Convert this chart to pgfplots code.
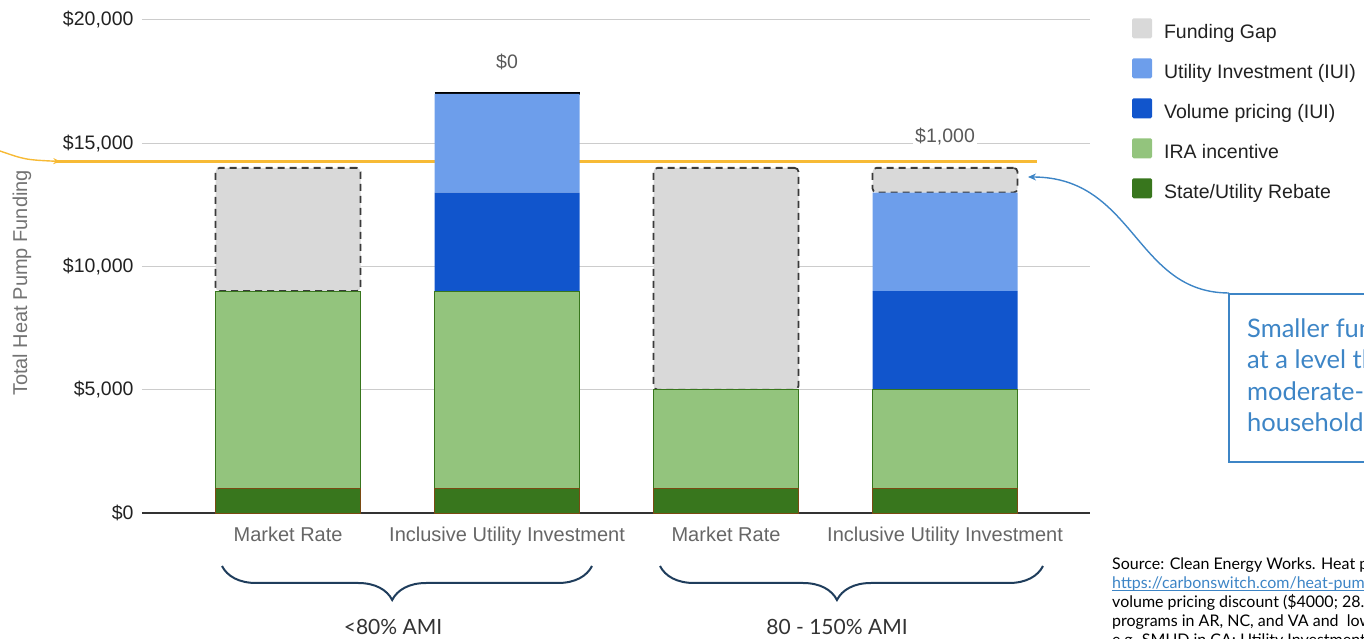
\documentclass[border=0pt]{standalone}
\usepackage{pgfplots}
\pgfplotsset{compat=1.18}
\usepackage{pgfplotstable}
\usepackage{fontspec}
\setmainfont{Liberation Sans}
\newfontfamily\lato{Lato}
\usetikzlibrary{arrows.meta,decorations.pathreplacing}
\definecolor{cGap}{HTML}{D9D9D9}
\definecolor{cUtil}{HTML}{6D9EEB}
\definecolor{cVol}{HTML}{1155CC}
\definecolor{cIRA}{HTML}{93C47D}
\definecolor{cReb}{HTML}{38761D}
\definecolor{cRebEdge}{HTML}{7A4A12}
\definecolor{cOrange}{HTML}{F7BA35}
\definecolor{cBlue}{HTML}{3D85C6}
\definecolor{cBrace}{HTML}{1F3D5C}
\definecolor{cDash}{HTML}{3A3A3A}

\pgfplotstableread{
x rebate ira volume utility gap
0 1000 8000 0 0 5000
1 1000 8000 4000 4000 0
2 1000 4000 0 0 9000
3 1000 4000 4000 4000 1000
}\datatable

\begin{document}
\begin{tikzpicture}[x=1pt,y=1pt]
\useasboundingbox (0,0) rectangle (1364,639);
\begin{axis}[
  at={(142pt,126pt)}, anchor=south west,
  scale only axis, width=948pt, height=493pt,
  xmin=-0.667, xmax=3.662, ymin=0, ymax=20000,
  ybar stacked, bar width=145pt,
  clip=false,
  scaled y ticks=false,
  axis lines=left, axis line style={draw=none},
  major tick length=0pt,
  ymajorgrids, grid style={draw=black!20, line width=1pt},
  extra y ticks={0}, extra y tick labels={},
  extra y tick style={grid style={draw=black!80, line width=1.3pt}},
  ytick={0,5000,10000,15000,20000},
  yticklabels={{\$0},{\$5,000},{\$10,000},{\$15,000},{\$20,000}},
  yticklabel style={font=\fontsize{19.5}{22}\selectfont, text=black!87, xshift=-5pt},
  xtick={0,1,2,3},
  xticklabels={Market Rate, Inclusive Utility Investment, Market Rate, Inclusive Utility Investment},
  xticklabel style={font=\fontsize{20}{23}\selectfont, text=black!60, yshift=-10pt},
  sq/.style={legend image code/.code={\fill[##1,draw=none,rounded corners=1.5pt] (0pt,-4pt) rectangle (20pt,16pt);}},
  reverse legend,
  legend cell align=left,
  legend style={at={(1.041,1.008)}, anchor=north west, draw=none, fill=none,
    font=\fontsize{19.5}{22}\selectfont, text=black!87, row sep=15.5pt,
    nodes={inner xsep=12pt, inner ysep=0pt, text height=13pt, text depth=4pt}},
]
\addplot[fill=cReb, draw=cRebEdge, line width=0.8pt, sq] table[x=x,y=rebate]{\datatable};
\addlegendentry{State/Utility Rebate}
\addplot[fill=cIRA, draw=cReb, line width=1pt, sq] table[x=x,y=ira]{\datatable};
\addlegendentry{IRA incentive}
\addplot[fill=cVol, draw=none, sq] table[x=x,y=volume]{\datatable};
\addlegendentry{Volume pricing (IUI)}
\addplot[fill=cUtil, draw=none, sq] table[x=x,y=utility]{\datatable};
\addlegendentry{Utility Investment (IUI)}
\addplot[fill=cGap, draw=cDash, line width=1.8pt, dash pattern=on 7pt off 5pt, rounded corners=4pt, sq] table[x=x,y=gap]{\datatable};
\addlegendentry{Funding Gap}

% zero funding gap on bar 2
\draw[black, line width=3pt] (axis cs:0.669,17000) -- (axis cs:1.331,17000);
% value labels
\node[font=\fontsize{19.5}{22}\selectfont, text=black!65] at (axis cs:0,13185) {\$5,000};
\node[font=\fontsize{19.5}{22}\selectfont, text=black!65] at (axis cs:2,13185) {\$9,000};
\node[font=\fontsize{19.5}{22}\selectfont, text=black!65] at (axis cs:1,18300) {\$0};
\node[font=\fontsize{19.5}{22}\selectfont, text=black!65, fill=white, inner sep=2pt] at (axis cs:3,15254) {\$1,000};
% target line
\draw[cOrange, line width=3.5pt] (axis cs:-1.06,14250) -- (axis cs:3.42,14250);
\draw[cOrange, line width=1.4pt, -{Stealth[length=7pt,width=6pt]}] (axis cs:-1.32,14700) .. controls (axis cs:-1.2,14330) .. (axis cs:-1.04,14260);
\end{axis}

% y label
\node[rotate=90, font=\fontsize{20}{23}\selectfont, text=black!55] at (22,356) {Total Heat Pump Funding};

% braces
\draw[cBrace, line width=2pt, decorate, decoration={brace, mirror, amplitude=34pt, aspect=0.46}] (222,73) -- (592,73);
\draw[cBrace, line width=2pt, decorate, decoration={brace, mirror, amplitude=34pt, aspect=0.462}] (660,73) -- (1043,73);
\node[anchor=base, font=\lato\fontsize{21}{24}\selectfont, text=black!80] at (393,4) {<80\% AMI};
\node[anchor=base, font=\lato\fontsize{21}{24}\selectfont, text=black!80] at (837,4) {80 - 150\% AMI};

% callout
\draw[cBlue, line width=1.4pt] (1229,345) rectangle (1420,177);
\begin{scope}
\clip (0,0) rectangle (1364,639);
\node[anchor=base west, inner sep=0pt, font=\lato\fontsize{25.5}{28}\selectfont, text=cBlue] at (1247,301) {Smaller funding gap};
\node[anchor=base west, inner sep=0pt, font=\lato\fontsize{25.5}{28}\selectfont, text=cBlue] at (1247,270) {at a level that};
\node[anchor=base west, inner sep=0pt, font=\lato\fontsize{25.5}{28}\selectfont, text=cBlue] at (1247,238) {moderate-income};
\node[anchor=base west, inner sep=0pt, font=\lato\fontsize{25.5}{28}\selectfont, text=cBlue] at (1247,207) {households can afford};
% source
\node[anchor=base west, inner sep=0pt, font=\lato\fontsize{16}{17}\selectfont, text=black] at (1112,69.7) {Source: Clean Energy Works. Heat pump cost estimates from};
\node[anchor=base west, inner sep=0pt, font=\lato\fontsize{16}{17}\selectfont, text=cBlue] (url) at (1112,50.7) {https://carbonswitch.com/heat-pump-costs/};
\draw[cBlue, line width=1pt] ([yshift=-2pt]url.base west) -- ([yshift=-2pt]url.base east);
\node[anchor=base west, inner sep=0pt, font=\lato\fontsize{16}{17}\selectfont, text=black] at (1112,31.7) {volume pricing discount (\$4000; 28.6\% of total cost)};
\node[anchor=base west, inner sep=0pt, font=\lato\fontsize{16}{17}\selectfont, text=black] at (1112,12.7) {programs in AR, NC, and VA and\ \ low-income programs};
\node[anchor=base west, inner sep=0pt, font=\lato\fontsize{16}{17}\selectfont, text=black] at (1112,-6.3) {e.g. SMUD in CA; Utility Investment estimates};
\end{scope}
\draw[cBlue, line width=1.4pt, -{Stealth[length=8pt,width=7pt]}] (1229,346) .. controls (1135,346) and (1135,462) .. (1028,462);
\end{tikzpicture}
\end{document}
